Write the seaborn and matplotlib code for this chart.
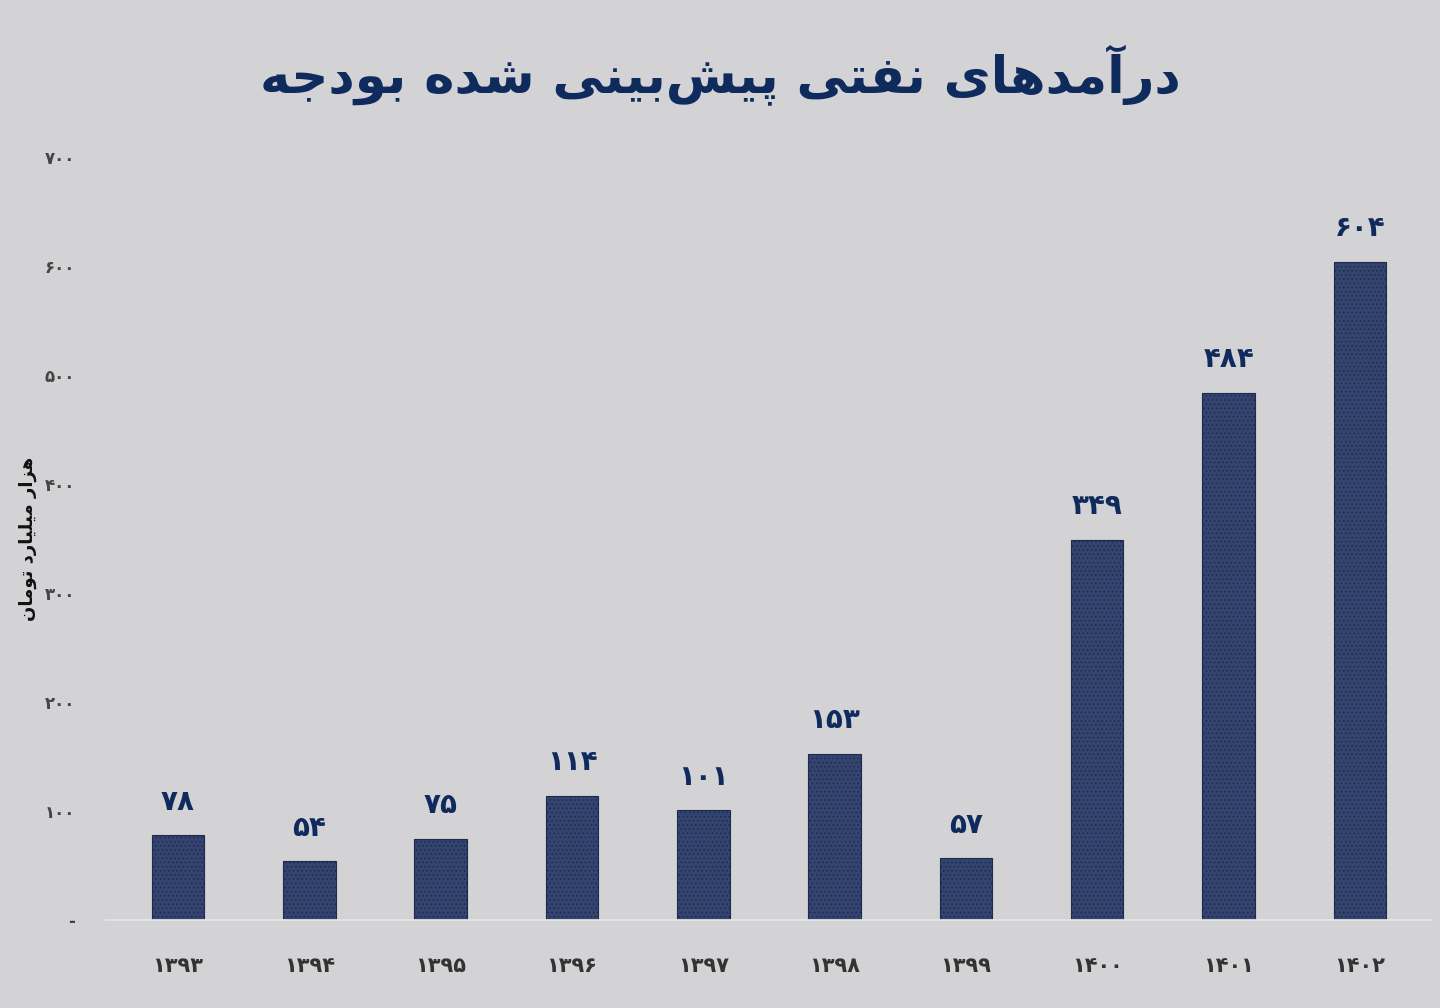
import matplotlib
matplotlib.use("Agg")
import matplotlib.pyplot as plt
import seaborn as sns
import pandas as pd

years = ["1393","1394","1395","1396","1397","1398","1399","1400","1401","1402"]
values = [78, 54, 75, 114, 101, 153, 57, 349, 484, 604]
yticks = [0, 100, 200, 300, 400, 500, 600, 700]
title = "درآمدهای نفتی پیش\u200cبینی شده بودجه"
ylabel = "هزار میلیارد تومان"

FORMS = {
 'ا':('\uFE8D','\uFE8E',None,None),'آ':('\uFE81','\uFE82',None,None),
 'ب':('\uFE8F','\uFE90','\uFE91','\uFE92'),'پ':('\uFB56','\uFB57','\uFB58','\uFB59'),
 'ت':('\uFE95','\uFE96','\uFE97','\uFE98'),'ج':('\uFE9D','\uFE9E','\uFE9F','\uFEA0'),
 'د':('\uFEA9','\uFEAA',None,None),'ر':('\uFEAD','\uFEAE',None,None),
 'ز':('\uFEAF','\uFEB0',None,None),'ش':('\uFEB5','\uFEB6','\uFEB7','\uFEB8'),
 'ف':('\uFED1','\uFED2','\uFED3','\uFED4'),'ل':('\uFEDD','\uFEDE','\uFEDF','\uFEE0'),
 'م':('\uFEE1','\uFEE2','\uFEE3','\uFEE4'),'ن':('\uFEE5','\uFEE6','\uFEE7','\uFEE8'),
 'ه':('\uFEE9','\uFEEA','\uFEEB','\uFEEC'),'و':('\uFEED','\uFEEE',None,None),
 'ی':('\uFBFC','\uFBFD','\uFBFE','\uFBFF'),
}
def shape(s):
    out = []
    n = len(s)
    for i, c in enumerate(s):
        if c == '\u200c':
            continue
        if c not in FORMS:
            out.append(c); continue
        p = s[i-1] if i > 0 else ''
        nx = s[i+1] if i + 1 < n else ''
        jp = p in FORMS and FORMS[p][2] is not None
        jn = FORMS[c][2] is not None and nx in FORMS
        f = FORMS[c]
        if jp and jn: out.append(f[3])
        elif jp: out.append(f[1])
        elif jn: out.append(f[2])
        else: out.append(f[0])
    return ''.join(reversed(out))

def fa(num):
    return str(num).translate(str.maketrans("0123456789", "۰۱۲۳۴۵۶۷۸۹"))

bg = "#d3d2d4"
navy = "#0f2a5c"
sns.set_theme(style="white")
plt.rcParams['font.family'] = ['DejaVu Sans']
plt.rcParams['hatch.color'] = "#7a8db3"
plt.rcParams['hatch.linewidth'] = 0.6

df = pd.DataFrame({"year": [fa(y) for y in years], "value": values})
fig = plt.figure(figsize=(14.4, 10.08), dpi=100, facecolor=bg)
ax = fig.add_axes([0.0735, 0.087, 0.921, 0.757])
ax.set_facecolor(bg)
sns.barplot(data=df, x="year", y="value", color="#34446f", width=0.4, ax=ax,
            edgecolor="#1c2a4d", linewidth=0.8, saturation=1)
for p in ax.patches:
    p.set_hatch("....")
for i, v in enumerate(values):
    ax.text(i, v + 18, fa(v), ha="center", va="bottom", fontsize=20,
            fontweight="bold", color=navy)
ax.set_ylim(0, 700)
ax.set_xlim(-0.55, 9.55)
ax.set_yticks(yticks)
ax.set_yticklabels(["-"] + [fa(t) for t in yticks[1:]], fontsize=12,
                   color="#444444", fontweight="bold")
ax.tick_params(axis="x", labelsize=15, colors="#333333", pad=20)
for t in ax.get_xticklabels():
    t.set_fontweight("bold")
ax.tick_params(axis="y", pad=22, length=0)
ax.set_xlabel("")
ax.set_ylabel(shape(ylabel), fontsize=13, fontweight="bold", color="#111111", labelpad=6)
for s in ["top", "right", "left"]:
    ax.spines[s].set_visible(False)
ax.spines["bottom"].set_color("#e6e6e6")
fig.text(0.5, 0.925, shape(title), ha="center", va="center", fontsize=37,
         fontweight="bold", color=navy)
fig.savefig("out.png", dpi=100, facecolor=bg)
